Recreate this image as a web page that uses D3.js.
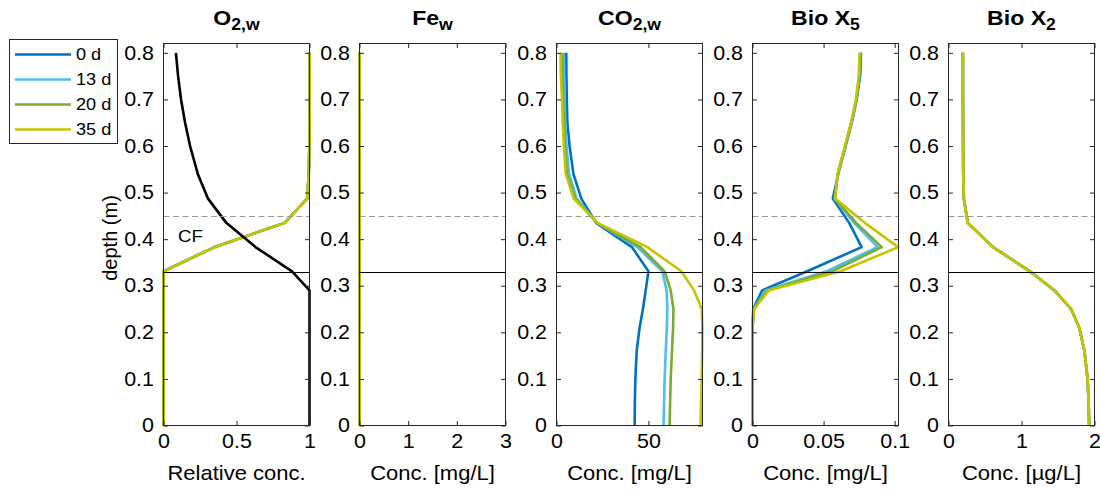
<!DOCTYPE html>
<html><head><meta charset="utf-8">
<script src="https://cdn.jsdelivr.net/npm/d3@7"></script>
<style>body{margin:0;background:#fff;} svg{display:block;font-family:"Liberation Sans",Arial,Helvetica,sans-serif;}</style>
</head><body>
<svg id="chart" width="1100" height="494"></svg>
<script>
// ---------- data ----------
const seriesNames = ["0 d", "13 d", "20 d", "35 d"];
const seriesColors = ["#0072BD", "#4DBEEE", "#77AC30", "#C4C400"];
const depths = [0.8, 0.75, 0.7, 0.65, 0.6, 0.54, 0.487, 0.435, 0.383, 0.331, 0.29, 0.25, 0.21, 0.16, 0.1, 0.05, 0];
const depthTicks = [0, 0.1, 0.2, 0.3, 0.4, 0.5, 0.6, 0.7, 0.8];
const cfDepth = 0.33;
const dashedDepth = 0.45;

const o2Reference = [0.085, 0.10, 0.12, 0.148, 0.182, 0.235, 0.305, 0.43, 0.63, 0.88, 1, 1, 1, 1, 1, 1, 1];
const o2Model = [1, 1, 1, 1, 0.999, 0.995, 0.984, 0.83, 0.35, 0, 0, 0, 0, 0, 0, 0, 0];
const feModel = [0, 0, 0, 0, 0, 0, 0, 0, 0, 0, 0, 0, 0, 0, 0, 0, 0];

const co2Day0  = [5.3, 5.4, 5.6, 5.9, 7.1, 9.2, 13.5, 21.5, 41.0, 50.0, 48.5, 47.0, 45.2, 43.6, 42.9, 42.6, 42.5];
const co2Day13 = [4.0, 4.1, 4.4, 4.8, 5.4, 6.8, 11.0, 22.0, 44.0, 57.5, 59.9, 60.3, 60.0, 59.4, 58.8, 58.5, 58.2];
const co2Day20 = [3.1, 3.2, 3.6, 4.0, 4.5, 5.6, 10.2, 22.0, 45.7, 58.8, 62.1, 63.6, 63.4, 62.8, 62.1, 61.8, 61.5];
const co2Day35 = [2.2, 2.4, 3.0, 3.4, 4.0, 5.0, 9.4, 22.3, 49.4, 67.9, 74.8, 79.0, 79.3, 79.2, 78.9, 78.6, 78.4];

const bioX5Day0  = [0.0764, 0.0757, 0.0733, 0.0698, 0.0655, 0.0603, 0.0565, 0.0680, 0.0768, 0.0385, 0.0068, 0.0005, 0, 0, 0, 0, 0];
const bioX5Day13 = [0.0759, 0.0753, 0.0731, 0.0696, 0.0653, 0.0601, 0.0578, 0.0715, 0.0880, 0.0520, 0.0091, 0.0010, 0, 0, 0, 0, 0];
const bioX5Day20 = [0.0757, 0.0751, 0.0730, 0.0695, 0.0652, 0.0600, 0.0580, 0.0729, 0.0909, 0.0560, 0.0103, 0.0010, 0, 0, 0, 0, 0];
const bioX5Day35 = [0.0753, 0.0748, 0.0727, 0.0693, 0.0650, 0.0598, 0.0582, 0.0790, 0.1025, 0.0620, 0.0114, 0.0012, 0, 0, 0, 0, 0];

const bioX2Model = [0.197, 0.197, 0.198, 0.199, 0.200, 0.202, 0.210, 0.264, 0.610, 1.115, 1.452, 1.680, 1.792, 1.862, 1.905, 1.920, 1.927];

const o2Ticks = [0, 0.5, 1];
const feTicks = [0, 1, 2, 3];
const co2Ticks = [0, 50];
const bioX5Ticks = [0, 0.05, 0.1];
const bioX2Ticks = [0, 1, 2];

const panels = [
  {title: ["O", "2,w"], xLabel: "Relative conc.", domain: [0, 1], ticks: o2Ticks,
   series: [o2Model, o2Model, o2Model, o2Model], reference: o2Reference},
  {title: ["Fe", "w"], xLabel: "Conc. [mg/L]", domain: [0, 3], ticks: feTicks,
   series: [feModel, feModel, feModel, feModel]},
  {title: ["CO", "2,w"], xLabel: "Conc. [mg/L]", domain: [0, 79.4], ticks: co2Ticks,
   series: [co2Day0, co2Day13, co2Day20, co2Day35]},
  {title: ["Bio X", "5"], xLabel: "Conc. [mg/L]", domain: [0, 0.1027], ticks: bioX5Ticks,
   series: [bioX5Day0, bioX5Day13, bioX5Day20, bioX5Day35]},
  {title: ["Bio X", "2"], xLabel: "Conc. [\u00b5g/L]", domain: [0, 2], ticks: bioX2Ticks,
   series: [bioX2Model, bioX2Model, bioX2Model, bioX2Model]}
];

// ---------- layout ----------
const svg = d3.select("#chart");
const axisColor = "#262626";
const stretch = 1.1;
const tickFont = 19.5;
const plotTop = 43.5, plotBottom = 425.5, plotW = 146;
const y = d3.scaleLinear().domain([0, 0.82]).range([plotBottom, plotTop]);

function styleAxis(g, size) {
  g.select(".domain").remove();
  g.selectAll("line").attr("stroke", axisColor);
  g.selectAll("text").attr("fill", "#000").attr("font-size", size)
    .attr("font-family", "'Liberation Sans', Arial, sans-serif");
}

panels.forEach((p, i) => {
  const x0 = Math.round(163 + i * 196.35) + 0.5;
  const x = d3.scaleLinear().domain(p.domain).range([x0, x0 + plotW]);
  const g = svg.append("g");

  // data lines
  const line = d3.line().x(d => x(d[0])).y(d => y(d[1]));
  p.series.forEach((vals, k) => {
    g.append("path")
      .datum(vals.map((v, j) => [v, depths[j]]))
      .attr("d", line).attr("fill", "none")
      .attr("stroke", seriesColors[k]).attr("stroke-width", 2.6)
      .attr("stroke-linejoin", "round");
  });
  if (p.reference) {
    g.append("path")
      .datum(p.reference.map((v, j) => [v, depths[j]]))
      .attr("d", line).attr("fill", "none")
      .attr("stroke", "#000").attr("stroke-width", 2.6)
      .attr("stroke-linejoin", "round");
  }

  // reference depths
  g.append("line").attr("x1", x.range()[0]).attr("x2", x.range()[1])
    .attr("y1", Math.round(y(dashedDepth)) + 0.5).attr("y2", Math.round(y(dashedDepth)) + 0.5)
    .attr("stroke", "#999").attr("stroke-width", 1.2).attr("stroke-dasharray", "6,3.5");
  g.append("line").attr("x1", x.range()[0]).attr("x2", x.range()[1])
    .attr("y1", Math.round(y(cfDepth)) + 0.5).attr("y2", Math.round(y(cfDepth)) + 0.5)
    .attr("stroke", "#000").attr("stroke-width", 1.2);

  // axes
  const left = g.append("g").attr("transform", `translate(${x0},0)`)
    .call(d3.axisLeft(y).tickValues(depthTicks).tickSize(-4.5).tickPadding(9).tickFormat(d => String(d)));
  styleAxis(left, tickFont);
  left.selectAll("text").attr("x", -9.5 / stretch).attr("transform", `scale(${stretch},1)`);

  const right = g.append("g").attr("transform", `translate(${x0 + plotW},0)`)
    .call(d3.axisRight(y).tickValues(depthTicks).tickSize(-4.5).tickFormat(""));
  styleAxis(right, 10);

  const bottom = g.append("g").attr("transform", `translate(0,${plotBottom})`)
    .call(d3.axisBottom(x).tickValues(p.ticks).tickSize(-4.5).tickPadding(4).tickFormat(d => String(d)));
  styleAxis(bottom, tickFont);
  bottom.selectAll("text").attr("y", 9).attr("dy", "0.71em").attr("transform", `scale(${stretch},1)`)
    .attr("x", 0);

  const top = g.append("g").attr("transform", `translate(0,${plotTop})`)
    .call(d3.axisTop(x).tickValues(p.ticks).tickSize(-4.5).tickFormat(""));
  styleAxis(top, 10);

  // box
  g.append("rect").attr("x", x0).attr("y", plotTop).attr("width", plotW).attr("height", plotBottom - plotTop)
    .attr("fill", "none").attr("stroke", axisColor).attr("stroke-width", 1);

  // title
  const cx = x0 + plotW / 2;
  const t = g.append("text").attr("transform", `translate(${cx},25) scale(${stretch},1)`)
    .attr("text-anchor", "middle").attr("font-weight", "bold").attr("font-size", 21).attr("fill", "#000");
  t.append("tspan").text(p.title[0]);
  t.append("tspan").attr("font-size", 16).attr("dy", 5).text(p.title[1]);

  // x label
  g.append("text").attr("transform", `translate(${cx},480) scale(${stretch},1)`)
    .attr("text-anchor", "middle").attr("font-size", 20).attr("fill", "#000").text(p.xLabel);

  if (i === 0) {
    g.append("text").attr("transform", `translate(178,242) scale(${stretch},1)`)
      .attr("font-size", 17).attr("fill", "#000").text("CF");
  }
});

// y label
svg.append("text").attr("transform", "translate(117,238) rotate(-90)")
  .attr("text-anchor", "middle").attr("font-size", 20).attr("fill", "#000").text("depth (m)");

// legend
const lg = svg.append("g");
lg.append("rect").attr("x", 9.5).attr("y", 39.5).attr("width", 108).attr("height", 104)
  .attr("fill", "#fff").attr("stroke", axisColor).attr("stroke-width", 1);
const legendY = d3.scalePoint().domain(seriesNames).range([54.5, 129.5]);
seriesNames.forEach((name, k) => {
  const yy = legendY(name);
  lg.append("line").attr("x1", 15).attr("x2", 71).attr("y1", yy).attr("y2", yy)
    .attr("stroke", seriesColors[k]).attr("stroke-width", 2.6);
  lg.append("text").attr("transform", `translate(76,${yy}) scale(${stretch},1)`)
    .attr("dy", "0.35em").attr("font-size", 16.5).attr("fill", "#000").text(name);
});
</script>
</body></html>
